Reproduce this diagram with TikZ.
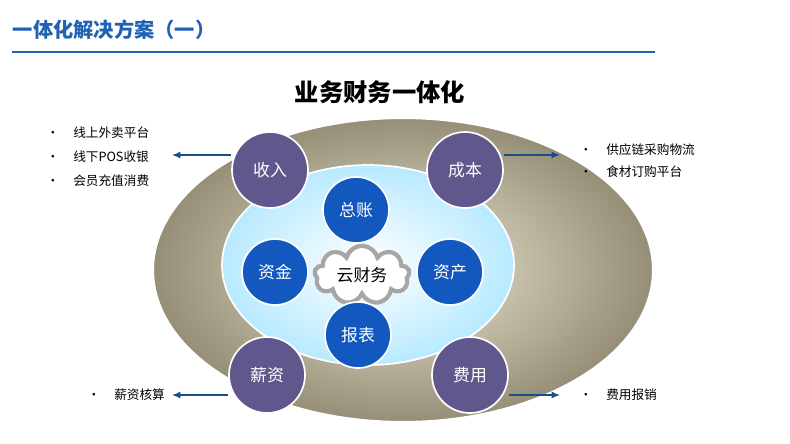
\documentclass[tikz,border=0pt]{standalone}
\usepackage{fontspec}
\setmainfont{Noto Sans CJK SC}
\usetikzlibrary{shapes.symbols,arrows.meta}
\definecolor{titleblue}{RGB}{31,98,178}
\definecolor{ringpurple}{RGB}{96,88,140}
\definecolor{dotblue}{RGB}{18,88,190}
\definecolor{sand}{RGB}{150,142,118}
\definecolor{sandlight}{RGB}{236,232,214}
\tikzset{
  ring/.style={circle,fill=ringpurple,draw=white,line width=1.2pt,minimum size=76\pxu,text=white,font=\large},
  dot/.style={circle,fill=dotblue,draw=white,line width=1.2pt,minimum size=66\pxu,text=white,font=\large},
  pointer/.style={-{Latex[length=6pt,width=5pt]},draw=titleblue!80!black,line width=0.9pt},
  item/.style={anchor=west,font=\small,inner sep=1pt}
}
\newlength{\pxu}\setlength{\pxu}{0.025cm}
\begin{document}
\begin{tikzpicture}[x=0.025cm,y=-0.025cm]
  \useasboundingbox (0,0) rectangle (790,443);
  \node[anchor=west,text=titleblue,font=\bfseries\Large] (title) at (8,30) {一体化解决方案（一）};
  \draw[titleblue,line width=0.8pt] (12,52) -- (655,52);
  \node[font=\bfseries\LARGE] (sub) at (380,92) {业务财务一体化};
  % ellipses
  \shade[outer color=sand,inner color=sandlight,draw=white,line width=1.5pt]
    (403,270) ellipse [x radius=250,y radius=152];
  \shade[inner color=white,outer color=blue!30!cyan!28!white,draw=white,line width=1.2pt]
    (368,265) ellipse [x radius=146,y radius=100];
  % cloud
  \node[cloud,cloud puffs=9,aspect=2.2,draw=gray!70,line width=3pt,fill=white,minimum width=95\pxu,minimum height=48\pxu,font=\large] (cloud) at (362,275) {云财务};
  % inner nodes
  \node[dot] (gl) at (356,210) {总账};
  \node[dot] (fund) at (275,272) {资金};
  \node[dot] (asset) at (450,272) {资产};
  \node[dot] (report) at (358,335) {报表};
  % outer nodes
  \node[ring] (income) at (270,170) {收入};
  \node[ring] (cost) at (465,170) {成本};
  \node[ring] (salary) at (267,375) {薪资};
  \node[ring] (expense) at (470,375) {费用};
  % arrow targets
  \coordinate (lt) at (172,155);
  \coordinate (rt) at (560,155);
  \coordinate (lb) at (172,395);
  \coordinate (rb) at (560,395);
  \draw[pointer] (income.west |- lt) -- (lt);
  \draw[pointer] (cost.east |- rt) -- (rt);
  \draw[pointer] (salary.west |- lb) -- (lb);
  \draw[pointer] (expense.east |- rb) -- (rb);
  % lists
  \node[item] (a1) at (45,133) {•\hspace{1.1em}线上外卖平台};
  \node[item] (a2) at (45,157) {•\hspace{1.1em}线下POS收银};
  \node[item] (a3) at (45,181) {•\hspace{1.1em}会员充值消费};
  \node[item] (b1) at (578,150) {•\hspace{1.1em}供应链采购物流};
  \node[item] (b2) at (578,172) {•\hspace{1.1em}食材订购平台};
  \node[item] (c1) at (86,395) {•\hspace{1.1em}薪资核算};
  \node[item] (d1) at (578,395) {•\hspace{1.1em}费用报销};
\end{tikzpicture}
\end{document}
